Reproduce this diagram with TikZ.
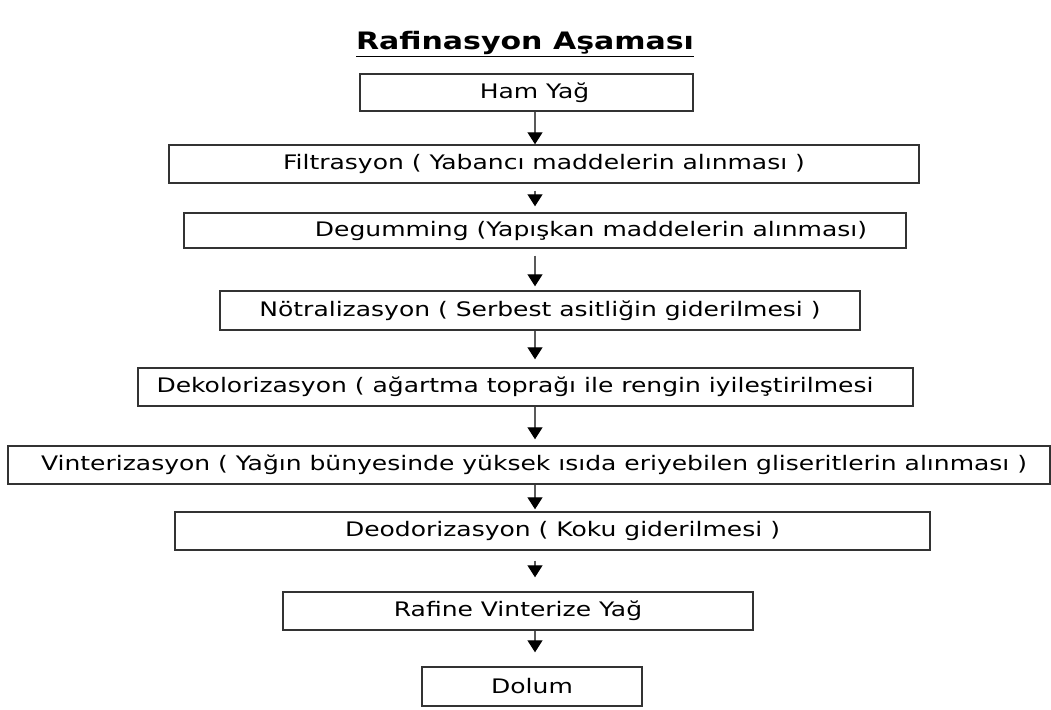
\documentclass[tikz,border=0pt]{standalone}
\usepackage{fontspec}
\setmainfont{DejaVu Sans}[FakeStretch=1.25]
\usetikzlibrary{arrows.meta}
\tikzset{
  stage/.style={draw=black!80, line width=1.4pt, inner sep=0pt, font=\fontsize{20}{24}\selectfont},
  flow/.style={draw=black!65, line width=1.3pt, -{Triangle[width=15pt,length=12pt,color=black]}}
}
\begin{document}
\begin{tikzpicture}[x=1pt, y=-1pt]
      \useasboundingbox (0,0) rectangle (1051,709);
      \node[font=\fontsize{24}{28}\selectfont\bfseries] (title) at (525,44) {\underline{Rafinasyon Aşaması}};
      \node[stage, minimum width=333pt, minimum height=37pt] (ham) at (526.5,92.5) {\hspace*{16pt}Ham Yağ};
      \node[stage, minimum width=750pt, minimum height=38pt] (filt) at (544,164) {Filtrasyon ( Yabancı maddelerin alınması )};
      \node[stage, minimum width=722pt, minimum height=35pt] (degum) at (545,230.5) {\hspace*{92pt}Degumming (Yapışkan maddelerin alınması)};
      \node[stage, minimum width=640pt, minimum height=39pt] (notr) at (540,310.5) {Nötralizasyon ( Serbest asitliğin giderilmesi )};
      \node[stage, minimum width=775pt, minimum height=38pt] (dekol) at (525.5,387) {Dekolorizasyon ( ağartma toprağı ile rengin iyileştirilmesi\hspace*{21pt}};
      \node[stage, minimum width=1042pt, minimum height=38pt] (vint) at (529,465) {\hspace*{10pt}Vinterizasyon ( Yağın bünyesinde yüksek ısıda eriyebilen gliseritlerin alınması )};
      \node[stage, minimum width=755pt, minimum height=38pt] (deod) at (552.5,531) {\hspace*{20pt}Deodorizasyon ( Koku giderilmesi )};
      \node[stage, minimum width=470pt, minimum height=38pt] (rafine) at (518,611) {Rafine Vinterize Yağ};
      \node[stage, minimum width=220pt, minimum height=39pt] (dolum) at (532,686.5) {Dolum};
      \coordinate (ax) at (535,0);
      \draw[flow] (ham.south -| ax) -- (filt.north -| ax);
      \draw[flow, shorten <=7pt, shorten >=6pt] (filt.south -| ax) -- (degum.north -| ax);
      \draw[flow, shorten <=7pt, shorten >=4pt] (degum.south -| ax) -- (notr.north -| ax);
      \draw[flow, shorten >=8pt] (notr.south -| ax) -- (dekol.north -| ax);
      \draw[flow, shorten >=6pt] (dekol.south -| ax) -- (vint.north -| ax);
      \draw[flow, shorten >=2pt] (vint.south -| ax) -- (deod.north -| ax);
      \draw[flow, shorten <=10pt, shorten >=14pt] (deod.south -| ax) -- (rafine.north -| ax);
      \draw[flow, shorten >=14pt] (rafine.south -| ax) -- (dolum.north -| ax);
    \end{tikzpicture}
\end{document}
